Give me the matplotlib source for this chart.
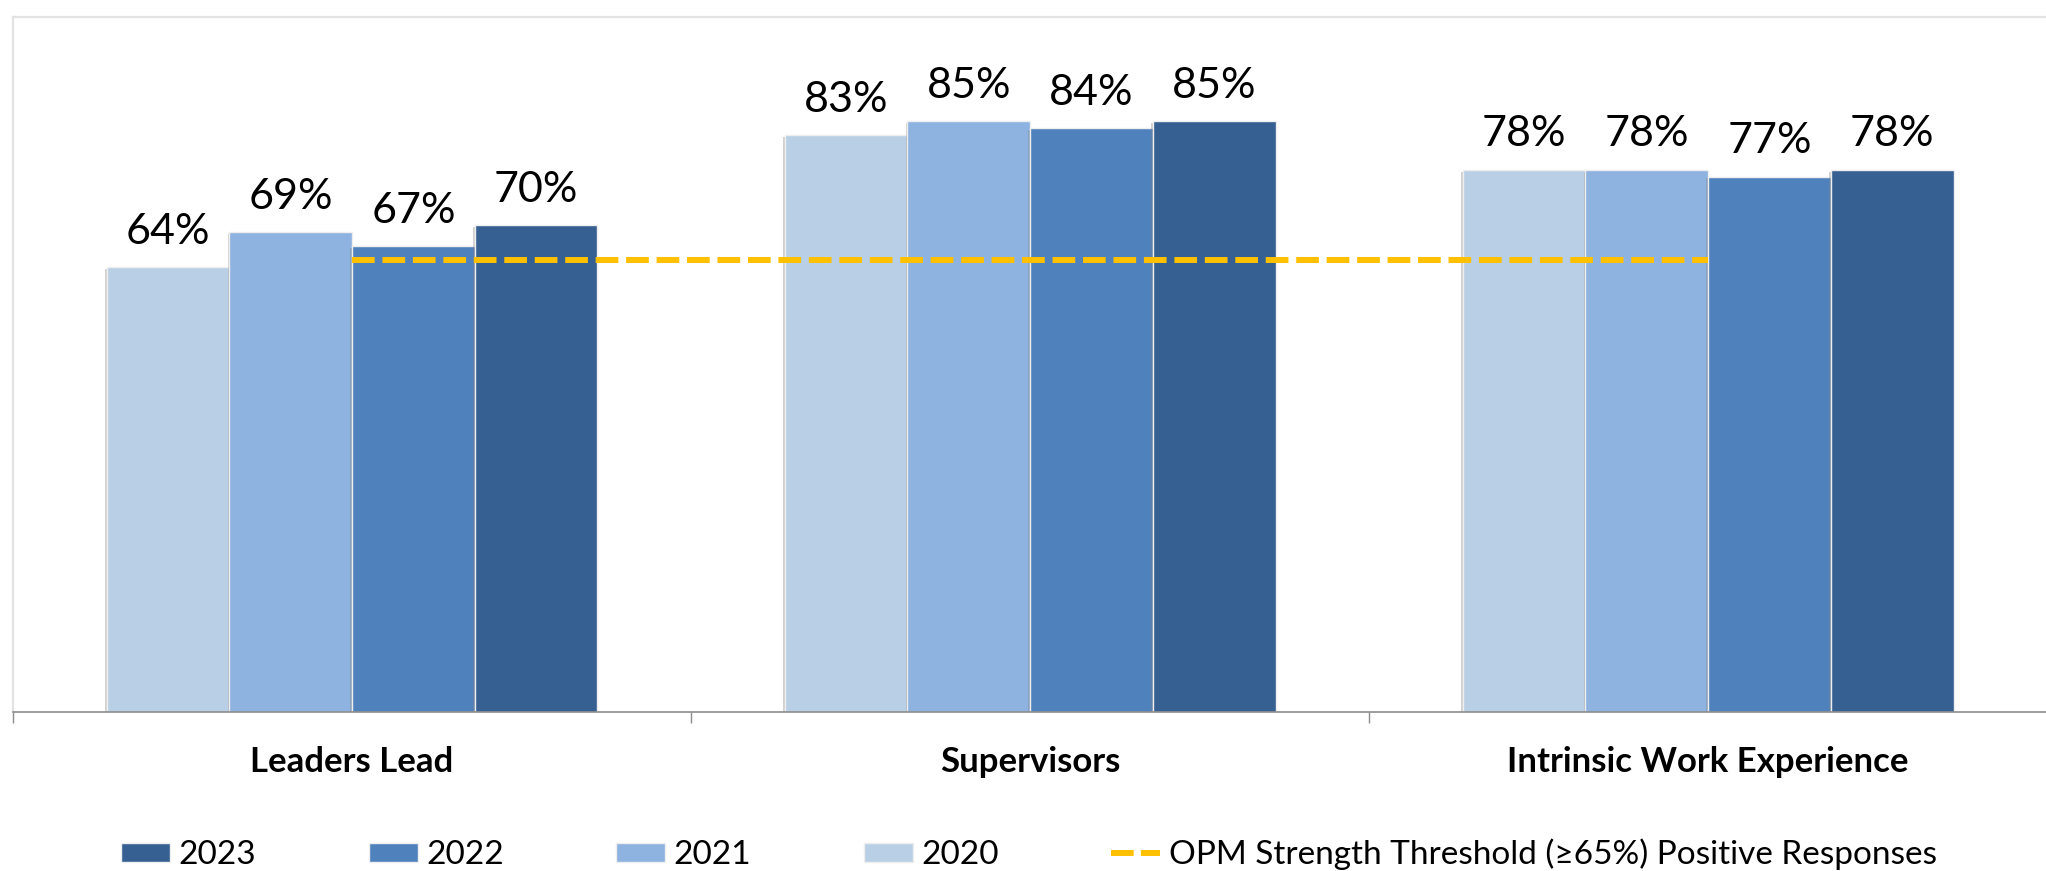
import numpy as np
import matplotlib
matplotlib.use("Agg")
import matplotlib.pyplot as plt
import matplotlib.patheffects as pe
from matplotlib.lines import Line2D
from matplotlib.patches import Patch

plt.rcParams['font.family'] = ['Lato', 'DejaVu Sans']

# survey results, percent positive
categories = ['Leaders Lead', 'Supervisors', 'Intrinsic Work Experience']
years = ['2020', '2021', '2022', '2023']
values = {
    '2020': [64, 83, 78],
    '2021': [69, 85, 78],
    '2022': [67, 84, 77],
    '2023': [70, 85, 78],
}
threshold = [65, 65, 65]
threshold_label = 'OPM Strength Threshold (\u226565%) Positive Responses'

colors = {
    '2020': '#B9CFE5',
    '2021': '#8EB3E1',
    '2022': '#4F81BD',
    '2023': '#366092',
}

fig = plt.figure(figsize=(20.46, 8.71), dpi=100)
ax = fig.add_axes([0.00635, 0.1826, 0.9942, 0.7979])

x = np.arange(len(categories))
bw = 0.181
shadow = [pe.SimplePatchShadow(offset=(-1.2, -1.2), shadow_rgbFace='#808080', alpha=0.35),
          pe.Normal()]

for k, yr in enumerate(years):
    bars = ax.bar(x + (k - 1.5) * bw, values[yr], width=bw, color=colors[yr],
                  edgecolor='#eeeeee', linewidth=1.0, zorder=2)
    for b in bars:
        b.set_path_effects(shadow)
    for xi, v in zip(x + (k - 1.5) * bw, values[yr]):
        ax.annotate(f'{v}%', xy=(xi, v), xytext=(0, 17), textcoords='offset points',
                    ha='center', va='baseline', fontsize=31, color='black')

ax.plot(x, threshold, color='#FFC000', linewidth=4.3, dashes=(3.8, 1.3),
        solid_capstyle='butt', dash_capstyle='butt', zorder=3)

ax.set_xlim(-0.5, 2.5)
ax.set_ylim(0, 100)
ax.set_yticks([])

ax.set_xticks(x)
ax.set_xticklabels(categories, fontsize=25, fontweight='bold')
ax.set_xticks([-0.5, 0.5, 1.5, 2.5], minor=True)
ax.tick_params(axis='x', which='major', length=0, pad=43)
ax.tick_params(axis='x', which='minor', length=8, width=1.0, color='#8c8c8c', direction='out')
for lab in ax.get_xticklabels():
    lab.set_va('baseline')

for side in ['top', 'left']:
    ax.spines[side].set_color('#e3e3e3')
    ax.spines[side].set_linewidth(1.6)
ax.spines['right'].set_visible(False)
ax.spines['bottom'].set_color('#8c8c8c')
ax.spines['bottom'].set_linewidth(1.2)

handles = [Patch(facecolor=colors[yr], edgecolor='#eeeeee', label=yr) for yr in ['2023', '2022', '2021', '2020']]
handles.append(Line2D([0], [0], color='#FFC000', linewidth=4.3, dashes=(3.8, 1.2),
                      label=threshold_label))
fig.legend(handles=handles, loc='center left', bbox_to_anchor=(0.0591, 0.019),
           ncol=5, frameon=False, fontsize=24, borderpad=0, borderaxespad=0,
           handlelength=1.47, handleheight=0.54, handletextpad=0.25, columnspacing=3.38)

fig.savefig('out.png', dpi=100)
